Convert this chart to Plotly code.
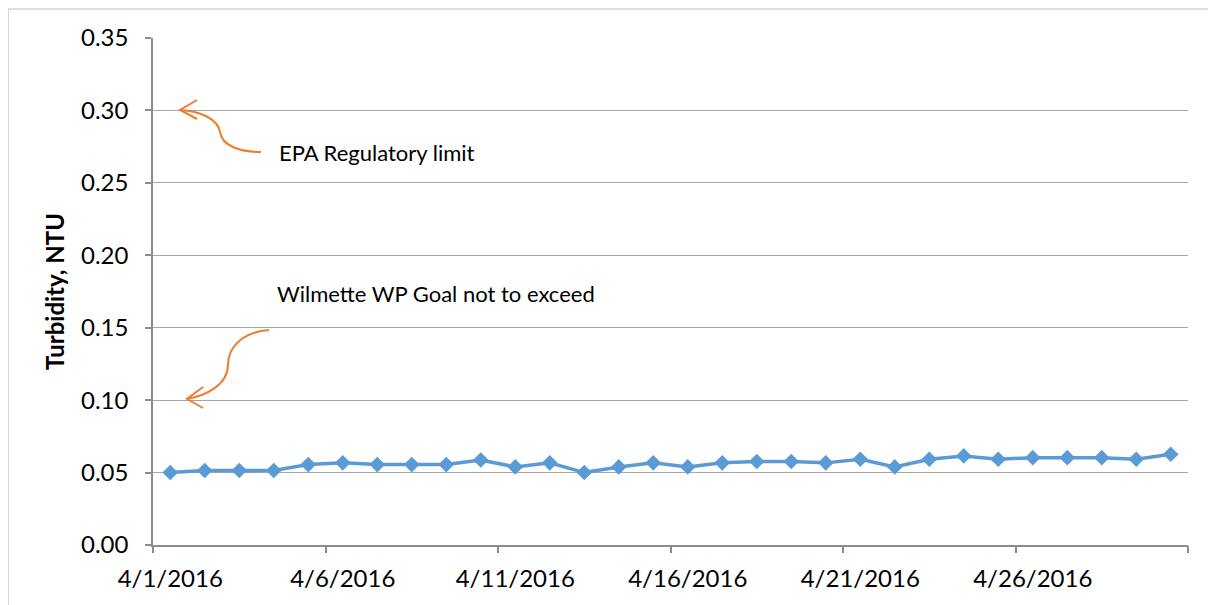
import plotly.graph_objects as go

# ---- data ----
dates = [f"2016-04-{d:02d}" for d in range(1, 31)]
turbidity = [0.050, 0.0514, 0.0514, 0.0514, 0.0555, 0.0567, 0.0555, 0.0555, 0.0555, 0.0587,
             0.0539, 0.0567, 0.050, 0.0539, 0.0567, 0.0539, 0.0567, 0.0576, 0.0576, 0.0567,
             0.0592, 0.0539, 0.0592, 0.0615, 0.0592, 0.0603, 0.0603, 0.0603, 0.0592, 0.0626]
tick_dates = ["2016-04-01", "2016-04-06", "2016-04-11", "2016-04-16", "2016-04-21", "2016-04-26"]
tick_text = ["4/1/2016", "4/6/2016", "4/11/2016", "4/16/2016", "4/21/2016", "4/26/2016"]
boundary_ticks = ["2016-03-31 12:00", "2016-04-05 12:00", "2016-04-10 12:00", "2016-04-15 12:00",
                  "2016-04-20 12:00", "2016-04-25 12:00", "2016-04-30 12:00"]
y_title = "Turbidity, NTU"
note_epa = "EPA Regulatory limit"
note_goal = "Wilmette WP Goal not to exceed"

W, H = 1216, 605
OFF = 8  # page body margin
L, R, T, B = 153, 1188, 38, 545  # target plot area in page pixels
FONT = "Lato"
GRID = "#A6A6A6"
AXIS = "#8C8C8C"
ORANGE = "#ED7D31"
BLUE = "#5B9BD5"


def px(x, y):
    return (x - L) / (R - L), (B - y) / (B - T)


def path(cmds):
    out = []
    for c in cmds:
        if isinstance(c, str):
            out.append(c)
        else:
            xx, yy = px(*c)
            out.append(f"{xx:.5f},{yy:.5f}")
    return " ".join(out)


fig = go.Figure()
fig.add_trace(go.Scatter(
    x=dates, y=turbidity, mode="lines+markers",
    line=dict(color=BLUE, width=3.5),
    marker=dict(symbol="diamond", size=12, color=BLUE),
    showlegend=False, hoverinfo="skip",
))
fig.add_trace(go.Scatter(x=[dates[0]], y=[turbidity[0]], xaxis="x2", mode="markers",
                         marker=dict(opacity=0), showlegend=False, hoverinfo="skip"))

xr = ["2016-03-31 12:00", "2016-04-30 12:00"]
fig.update_layout(
    width=W, height=H,
    margin=dict(l=L - OFF, r=W - (R - OFF), t=T - OFF, b=H - (B - OFF)),
    paper_bgcolor="white", plot_bgcolor="white",
    font=dict(family=FONT, color="black"),
    xaxis=dict(type="date", range=xr, tickvals=tick_dates, ticktext=tick_text,
               showgrid=False, showline=True, linecolor=AXIS, linewidth=1.5,
               ticks="", tickfont=dict(size=24, family=FONT), ticklabelstandoff=11,
               zeroline=False),
    xaxis2=dict(type="date", range=xr, overlaying="x", anchor="y", side="bottom",
                tickvals=boundary_ticks, showticklabels=False, ticks="outside",
                ticklen=7, tickcolor=AXIS, tickwidth=1.5, showgrid=False, showline=False,
                zeroline=False),
    yaxis=dict(range=[0, 0.35], dtick=0.05, tick0=0, tickformat=".2f",
               showgrid=True, gridcolor=GRID, gridwidth=1.2,
               showline=True, linecolor=AXIS, linewidth=1.5,
               ticks="outside", ticklen=6, tickcolor=AXIS, tickwidth=1.5,
               tickfont=dict(size=24, family=FONT), ticklabelstandoff=12,
               zeroline=False,
               title=dict(text=f"<b>{y_title}</b>", font=dict(size=24, family=FONT), standoff=10)),
)

# outer chart border
x0, y0 = px(8, 9)
x1, y1 = px(1240, 640)
fig.add_shape(type="rect", xref="paper", yref="paper", x0=x0, y0=y1, x1=x1, y1=y0,
              line=dict(color="#BFBFBF", width=1.2), layer="below")

# arrows
arrow_line = dict(color=ORANGE, width=2)
fig.add_shape(type="path", xref="paper", yref="paper", line=arrow_line,
              path=path(["M", (261, 152), "C", (240, 152), (222, 146), (220, 132),
                         "C", (218, 119), (200, 111), (180, 110)]))
fig.add_shape(type="path", xref="paper", yref="paper", line=arrow_line,
              path=path(["M", (197, 100), "L", (180, 110), "L", (197, 119)]))
fig.add_shape(type="path", xref="paper", yref="paper", line=arrow_line,
              path=path(["M", (269, 330), "C", (245, 332), (228, 345), (228, 365),
                         "C", (228, 385), (205, 396), (187, 399)]))
fig.add_shape(type="path", xref="paper", yref="paper", line=arrow_line,
              path=path(["M", (203, 387), "L", (187, 399), "L", (203, 408)]))

ax, ay = px(277, 152)
fig.add_annotation(text=note_epa, xref="paper", yref="paper", x=ax, y=ay,
                   xanchor="left", yanchor="middle", showarrow=False,
                   font=dict(size=22, family=FONT))
gx, gy = px(275, 293)
fig.add_annotation(text=note_goal, xref="paper", yref="paper", x=gx, y=gy,
                   xanchor="left", yanchor="middle", showarrow=False,
                   font=dict(size=22, family=FONT))

fig.write_html("out.html")
